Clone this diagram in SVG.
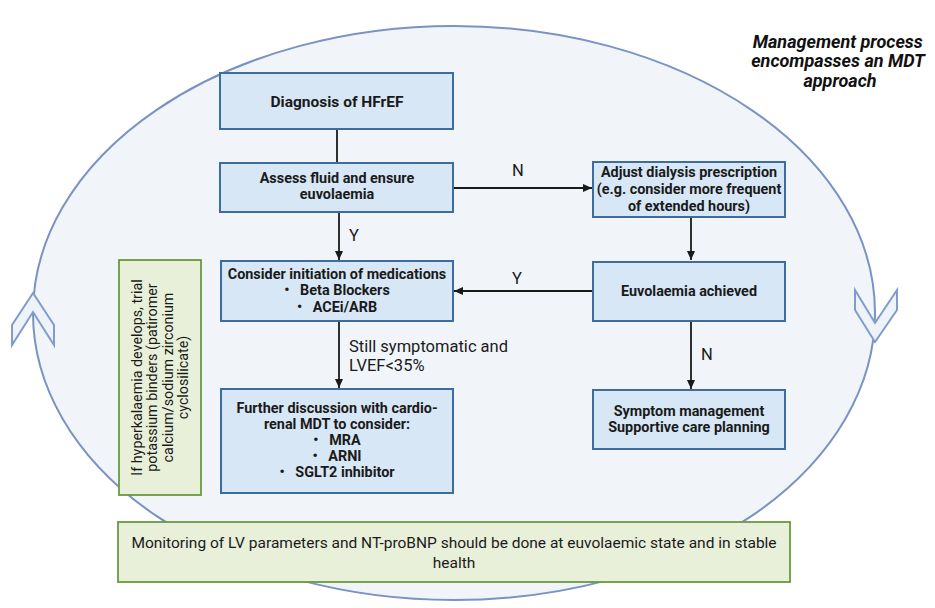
<svg xmlns="http://www.w3.org/2000/svg" width="935" height="608" viewBox="0 0 935 608">
<defs>
<marker id="ah" markerWidth="10" markerHeight="10" refX="9" refY="5" orient="auto" markerUnits="userSpaceOnUse">
<path d="M0,1 L9,5 L0,9 Z" fill="#1a1a1a"/>
</marker>
<style>
.box{fill:#d7e7f5;stroke:#3d6d9e;stroke-width:2}
.gbox{fill:#e9f0d9;stroke:#6b9a3e;stroke-width:1.8}
.bt{font-family:Roboto,"Liberation Sans",sans-serif;font-weight:bold;font-size:14.4px;fill:#1a1a1a;text-anchor:middle}
.rt{font-family:Roboto,"Liberation Sans",sans-serif;fill:#1a1a1a}
.lbl{font-size:16.5px}
.con{stroke:#1a1a1a;stroke-width:1.8;fill:none}
.chev{fill:#eef3fa;stroke:#7f9ccc;stroke-width:2}
</style>
</defs>
<rect width="935" height="608" fill="#ffffff"/>
<g id="cycle">
<ellipse cx="454" cy="313" rx="421" ry="287" fill="#f1f5fa" stroke="#7a92c4" stroke-width="2"/>
<polygon class="chev" points="33,293 54,325 54,345 33,312 12,345 12,325"/>
<polygon class="chev" points="855,290 875,323 897,290 897,310 875,342 855,310"/>
</g>
<g id="title">
<text font-family="Roboto,'Liberation Sans',sans-serif" font-weight="bold" font-style="italic" font-size="18" text-anchor="middle" fill="#111">
<tspan x="840" y="47.5">Management process</tspan>
<tspan x="840" y="67">encompasses an MDT</tspan>
<tspan x="840" y="86.5">approach</tspan>
</text>
</g>
<g id="connectors">
<line class="con" x1="337" y1="129" x2="337" y2="163"/>
<line class="con" x1="453" y1="188" x2="592" y2="188" marker-end="url(#ah)"/>
<line class="con" x1="339" y1="212" x2="339" y2="260" marker-end="url(#ah)"/>
<line class="con" x1="691" y1="217" x2="691" y2="260" marker-end="url(#ah)"/>
<line class="con" x1="593" y1="291" x2="454" y2="291" marker-end="url(#ah)"/>
<line class="con" x1="339" y1="321" x2="339" y2="388" marker-end="url(#ah)"/>
<line class="con" x1="691" y1="321" x2="691" y2="389" marker-end="url(#ah)"/>
<text class="rt lbl" x="518" y="176" text-anchor="middle">N</text>
<text class="rt lbl" x="354" y="241" text-anchor="middle">Y</text>
<text class="rt lbl" x="517" y="284" text-anchor="middle">Y</text>
<text class="rt lbl" x="707" y="360" text-anchor="middle">N</text>
<text class="rt lbl"><tspan x="349" y="352">Still symptomatic and</tspan><tspan x="349" y="371">LVEF&lt;35%</tspan></text>
</g>
<g id="diagnosis">
<rect class="box" x="220" y="73" width="233" height="56"/>
<text class="bt" x="337" y="107" style="font-size:15.5px">Diagnosis of HFrEF</text>
</g>
<g id="assess">
<rect class="box" x="220" y="163" width="233" height="49"/>
<text class="bt"><tspan x="337" y="183">Assess fluid and ensure</tspan><tspan x="337" y="199">euvolaemia</tspan></text>
</g>
<g id="adjust">
<rect class="box" x="593" y="162" width="192" height="55"/>
<text class="bt"><tspan x="689" y="177">Adjust dialysis prescription</tspan><tspan x="689" y="194">(e.g. consider more frequent</tspan><tspan x="689" y="211">of extended hours)</tspan></text>
</g>
<g id="consider">
<rect class="box" x="221" y="261" width="232" height="60"/>
<text class="bt"><tspan x="337" y="279">Consider initiation of medications</tspan><tspan x="337" y="295">•&#160;&#160;&#160;Beta Blockers</tspan><tspan x="337" y="312">•&#160;&#160;&#160;ACEi/ARB</tspan></text>
</g>
<g id="euvolaemia">
<rect class="box" x="593" y="262" width="192" height="59"/>
<text class="bt" x="689" y="296">Euvolaemia achieved</text>
</g>
<g id="further">
<rect class="box" x="221" y="389" width="232" height="104"/>
<text class="bt"><tspan x="337" y="413">Further discussion with cardio-</tspan><tspan x="337" y="429">renal MDT to consider:</tspan><tspan x="337" y="445">•&#160;&#160;&#160;MRA</tspan><tspan x="337" y="461">•&#160;&#160;&#160;ARNI</tspan><tspan x="337" y="477">•&#160;&#160;&#160;SGLT2 inhibitor</tspan></text>
</g>
<g id="symptom">
<rect class="box" x="593" y="390" width="192" height="59"/>
<text class="bt"><tspan x="689" y="416">Symptom management</tspan><tspan x="689" y="432">Supportive care planning</tspan></text>
</g>
<g id="hyperkalaemia">
<rect class="gbox" x="119" y="260" width="82" height="235"/>
<text class="rt" style="font-size:14.3px" text-anchor="middle" transform="translate(160,377.5) rotate(-90)"><tspan x="0" y="-18">If hyperkalaemia develops, trial</tspan><tspan x="0" y="-3">potassium binders (patiromer</tspan><tspan x="0" y="12.5">calcium/sodium zirconium</tspan><tspan x="0" y="28">cyclosilicate)</tspan></text>
</g>
<g id="monitoring">
<rect class="gbox" x="118" y="522" width="672" height="60"/>
<text class="rt" text-anchor="middle" style="font-size:15.5px"><tspan x="454" y="548">Monitoring of LV parameters and NT-proBNP should be done at euvolaemic state and in stable</tspan><tspan x="454" y="568">health</tspan></text>
</g>
</svg>
